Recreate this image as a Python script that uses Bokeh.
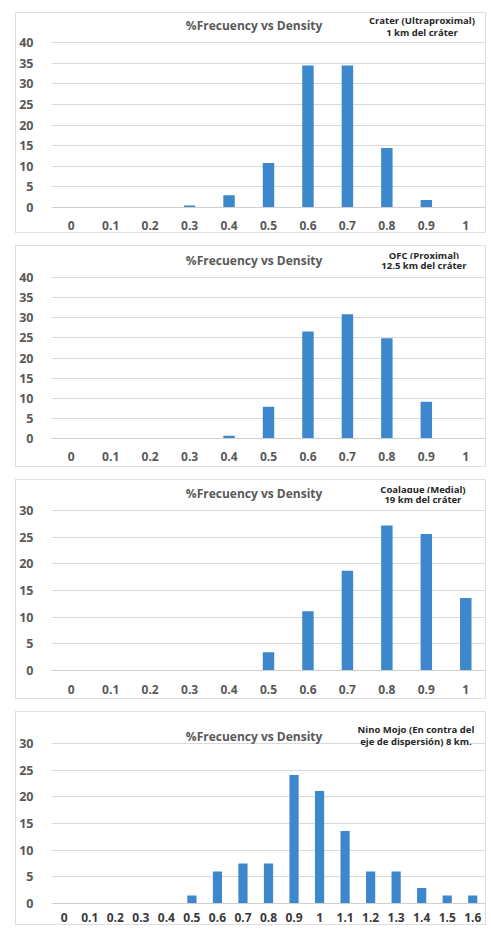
from bokeh.plotting import figure
from bokeh.layouts import column
from bokeh.models import Range1d, FixedTicker, Label
from bokeh.embed import file_html
from bokeh.resources import INLINE

chart_title = "%Frecuency vs Density"

density_a = ["0", "0.1", "0.2", "0.3", "0.4", "0.5", "0.6", "0.7", "0.8", "0.9", "1"]
density_b = ["0", "0.1", "0.2", "0.3", "0.4", "0.5", "0.6", "0.7", "0.8",
             "0.9", "1", "1.1", "1.2", "1.3", "1.4", "1.5", "1.6"]

crater = [0, 0, 0, 0.5, 3.0, 10.8, 34.4, 34.4, 14.4, 1.8, 0]
qfc = [0, 0, 0, 0, 0.7, 7.9, 26.6, 30.9, 24.9, 9.1, 0]
coalaque = [0, 0, 0, 0, 0, 3.4, 11.1, 18.7, 27.2, 25.6, 13.6]
nino_mojo = [0, 0, 0, 0, 0, 1.5, 6.0, 7.5, 7.5, 24.1, 21.1, 13.6, 6.0, 6.0, 2.9, 1.5, 1.5]

sub_crater = ["Crater (Ultraproximal)", "1 km del cráter"]
sub_qfc = ["QFC (Proximal)", "12.5 km del cráter"]
sub_coalaque = ["Coalaque (Medial)", "19 km del cráter"]
sub_nino = ["Nino Mojo (En contra del", "eje de dispersión) 8 km."]

BAR = "#3d87cc"
GREY = "#595959"
FONT = "Open Sans"

BOX_LEFT = 15
W = 471                 # canvas width (box is W + 2 with its 1px border)
BL, BR = 32, 2
FRAME_W = W - BL - BR
TOP = 1


def panel(cats, vals, ymax, subs, box_h, ymax_off, y0_off, title_off, sub_offs, sub_x,
          bar_w, xsize, xcolor, xstand):
    n = len(cats)
    height = box_h - 2
    plot_px = y0_off - ymax_off
    btop = ymax_off - 1
    bbot = box_h - 1 - y0_off
    y_end = ymax * (1 + (btop - TOP) / plot_px)
    p = figure(width=W, height=height, output_backend="svg", toolbar_location=None,
               x_range=Range1d(-0.5, n - 0.5), y_range=Range1d(0, y_end),
               min_border_left=BL, min_border_right=BR, min_border_top=TOP,
               min_border_bottom=bbot, outline_line_color=None,
               styles={"border": "1px solid #dedede"})
    idx = list(range(n))
    p.vbar(x=idx, top=vals, width=bar_w, color=BAR, line_color=None)
    p.xgrid.grid_line_color = None
    p.ygrid.grid_line_color = "#dadada"
    p.yaxis.ticker = FixedTicker(ticks=list(range(0, ymax + 1, 5)))
    p.xaxis.ticker = FixedTicker(ticks=idx)
    p.xaxis.major_label_overrides = {i: c for i, c in enumerate(cats)}
    for ax in (p.xaxis, p.yaxis):
        ax.major_tick_line_color = None
        ax.minor_tick_line_color = None
        ax.major_label_text_font = FONT
        ax.major_label_text_font_style = "bold"
    p.yaxis.axis_line_color = None
    p.yaxis.major_label_text_color = GREY
    p.yaxis.major_label_text_font_size = "12.5px"
    p.yaxis.major_label_standoff = 12
    p.xaxis.axis_line_color = "#cfcfcf"
    p.xaxis.major_label_text_color = xcolor
    p.xaxis.major_label_text_font_size = xsize
    p.xaxis.major_label_standoff = xstand

    unit = FRAME_W / n
    frame_left = BOX_LEFT + 1 + BL

    def xd(px):
        return (px - frame_left) / unit - 0.5

    def yd(off):
        return ymax + (ymax_off - off) * ymax / plot_px

    p.add_layout(Label(x=xd(252), y=yd(title_off), text=chart_title,
                       text_font=FONT, text_font_style="bold", text_font_size="12px",
                       text_color=GREY, text_align="center", text_baseline="middle"))
    for s, off in zip(subs, sub_offs):
        p.add_layout(Label(x=xd(sub_x), y=yd(off), text=s, text_font=FONT,
                           text_font_style="bold", text_font_size="9.5px",
                           text_color="#262626", text_align="center",
                           text_baseline="middle", background_fill_color="white"))
    return p


p1 = panel(density_a, crater, 40, sub_crater, 223, 30, 195, 13, (8, 20), 421,
           0.29, "12px", GREY, 7)
p2 = panel(density_a, qfc, 40, sub_qfc, 224, 32, 193, 15, (10, 20), 423,
           0.29, "12px", GREY, 7)
p3 = panel(density_a, coalaque, 30, sub_coalaque, 222, 31, 191, 14, (10, 20), 422,
           0.29, "12px", GREY, 8)
p4 = panel(density_b, nino_mojo, 30, sub_nino, 216, 32, 192, 25, (18, 30), 415,
           0.36, "12px", "#3a3a3a", 3)

layout = column(p1, p2, p3, p4, spacing=12, margin=(12, 0, 0, BOX_LEFT))

open("out.html", "w").write(file_html(layout, INLINE))
